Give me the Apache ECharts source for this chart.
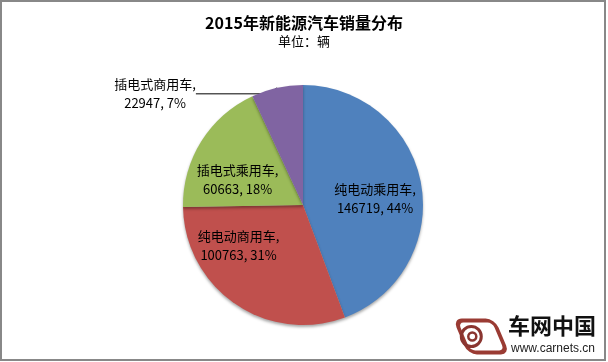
<!DOCTYPE html>
<html><head><meta charset="utf-8">
<script src="https://cdn.jsdelivr.net/npm/echarts@6/dist/echarts.min.js"></script>
<style>html,body{margin:0;padding:0;background:#fff}#c{width:608px;height:362px}</style>
</head><body><div id="c"></div>
<script>
const titleText = '2015年新能源汽车销量分布';
const subtitleText = '单位：辆';
const categories = ['纯电动乘用车', '纯电动商用车', '插电式乘用车', '插电式商用车'];
const values = [146719, 100763, 60663, 22947];
const percentLabels = ['44%', '31%', '18%', '7%'];
const colors = ['#4F81BD', '#C0504D', '#9BBB59', '#8064A2'];

const chart = echarts.init(document.getElementById('c'), null, {renderer: 'canvas'});
const font = '"Noto Sans CJK SC", "Microsoft YaHei", sans-serif';

// label nudges (px) to mimic Excel's best-fit placement
const labelShift = [[10, 5], [-29, -11], [-12, 8]];

const data = categories.map((name, i) => {
  const item = {name, value: values[i], itemStyle: {color: colors[i]}};
  if (i === 3) {
    item.label = {position: 'outside'};
    item.labelLine = {show: true, length: 2, length2: 72, lineStyle: {color: '#000', width: 1}};
  }
  return item;
});

chart.setOption({
  animation: false,
  backgroundColor: '#fff',
  title: [
    {text: titleText, left: 'center', top: 10, textStyle: {fontFamily: font, fontSize: 16, fontWeight: 'bold', color: '#000'}},
    {text: subtitleText, left: 'center', top: 30, textStyle: {fontFamily: font, fontSize: 13, fontWeight: 'normal', color: '#000'}}
  ],
  graphic: [
    {type: 'rect', shape: {x: 1, y: 1, width: 604, height: 359}, style: {fill: 'none', stroke: '#888', lineWidth: 2}, z: 100},
    {type: 'group', left: 452, top: 318, children: [
      {type: 'rect', shape: {x: 10, y: 3, width: 38, height: 32, r: 7}, style: {fill: 'none', stroke: '#9a3b33', lineWidth: 4}, skewX: 0.4},
      {type: 'circle', shape: {cx: 27, cy: 19, r: 10}, style: {fill: 'none', stroke: '#8a3530', lineWidth: 3}},
      {type: 'circle', shape: {cx: 28, cy: 19, r: 4}, style: {fill: 'none', stroke: '#8a3530', lineWidth: 2.5}}
    ]},
    {type: 'text', left: 508, top: 315, style: {text: '车网中国', font: 'bold 22px ' + font, fill: '#111'}},
    {type: 'text', left: 511, top: 343, style: {text: 'www.carnets.cn', font: '12px Arial, "Liberation Sans", sans-serif', fill: '#222'}}
  ],
  series: [{
    type: 'pie',
    center: [303, 205],
    radius: [0, 120],
    startAngle: 90,
    clockwise: true,
    avoidLabelOverlap: false,
    itemStyle: {borderWidth: 0, shadowColor: 'rgba(0,0,0,0.35)', shadowBlur: 3, shadowOffsetY: 2},
    label: {
      show: true,
      position: 'inside',
      fontFamily: font,
      fontSize: 13,
      lineHeight: 19,
      color: '#000',
      align: 'center',
      formatter: p => categories[p.dataIndex] + ',\n' + values[p.dataIndex] + ', ' + percentLabels[p.dataIndex]
    },
    labelLayout: function (params) {
      const i = params.dataIndex;
      if (i === 3) {
        if (!params.labelLinePoints) return {};
        const s = params.labelLinePoints[0];
        return {x: s[0] - 122, y: s[1] + 6, align: 'center', verticalAlign: 'middle'};
      }
      return {dx: labelShift[i][0], dy: labelShift[i][1]};
    },
    emphasis: {disabled: true},
    data: data
  }]
});
</script></body></html>
